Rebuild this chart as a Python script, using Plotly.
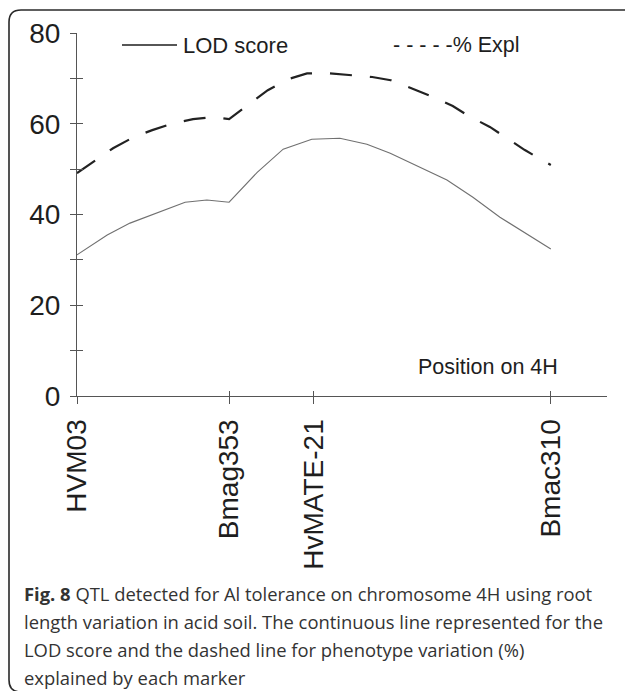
import plotly.graph_objects as go

# ---- data ----
marker_names = ["HVM03", "Bmag353", "HvMATE-21", "Bmac310"]
marker_pos = [0, 28.7, 44.7, 89.4]

lod_pos = [0, 5.7, 10.0, 15.7, 20.4, 24.5, 28.7, 34.0, 38.9, 44.3, 49.6, 54.7,
           59.1, 69.8, 74.7, 79.8, 89.4]
lod_val = [31.1, 35.5, 38.1, 40.7, 42.7, 43.2, 42.7, 49.3, 54.4, 56.6, 56.8, 55.5,
           53.5, 47.6, 43.8, 39.4, 32.4]

expl_pos = [0, 3.8, 6.8, 10.6, 14.2, 18.1, 21.9, 25.7, 28.7, 33.0, 36.0, 39.8, 43.4,
            47.7, 51.5, 55.7, 59.2, 63.6, 66.8, 70.9, 73.9, 77.9, 80.9, 84.5, 89.4]
expl_val = [49.1, 52.2, 54.6, 57.0, 58.6, 60.1, 61.0, 61.5, 61.0, 64.8, 67.4, 69.8, 71.1,
            71.1, 70.7, 70.3, 69.6, 67.6, 66.1, 63.9, 61.7, 59.3, 57.0, 54.2, 50.9]

y_ticks = [0, 10, 20, 30, 40, 50, 60, 70, 80]
y_ticktext = ["0", "", "20", "", "40", "", "60", "", "80"]

caption_lines = [
    "<b>Fig. 8</b> QTL detected for Al tolerance on chromosome 4H using root",
    "length variation in acid soil. The continuous line represented for the",
    "LOD score and the dashed line for phenotype variation (%)",
    "explained by each marker",
]

# ---- geometry ----
W, H = 625, 691
L, R, T, B = 77, 18, 33, 295
PW, PH = W - L - R, H - T - B


def px(x):
    return (x - L) / PW


def py(y):
    return (H - B - y) / PH


FONT = "Liberation Sans, Arial, sans-serif"
TXT = "#1e1e1e"
AX = "#555555"

fig = go.Figure()
fig.add_trace(go.Scatter(x=lod_pos, y=lod_val, mode="lines", name="LOD score",
                         line=dict(color="#707070", width=1.1), xaxis="x", yaxis="y",
                         showlegend=False))
fig.add_trace(go.Scatter(x=expl_pos, y=expl_val, mode="lines", name="% Expl",
                         line=dict(color="#222222", width=2.2, dash="22px,18px"),
                         xaxis="x2", yaxis="y2", showlegend=False))

common_x = dict(range=[0, 100], tickvals=marker_pos, showgrid=False, zeroline=False,
                ticklen=7, tickwidth=1.2, tickcolor=AX)
common_y = dict(range=[0, 80], tickvals=y_ticks, showgrid=False, zeroline=False,
                ticklen=6, tickwidth=1.2, tickcolor=AX)

fig.update_layout(
    width=W, height=H,
    margin=dict(l=L, r=R, t=T, b=B, pad=0),
    paper_bgcolor="white", plot_bgcolor="white",
    font=dict(family=FONT, color=TXT),
    xaxis=dict(**common_x, ticks="outside", ticktext=marker_names, tickangle=-90,
               showline=True, linecolor=AX, linewidth=1.2,
               tickfont=dict(size=28, family=FONT, color=TXT), ticklabelstandoff=4),
    xaxis2=dict(**{**common_x, "ticklen": 5}, ticks="inside", overlaying="x", anchor="y",
                showticklabels=False, showline=False),
    yaxis=dict(**common_y, ticks="outside", ticktext=y_ticktext, showline=True,
               linecolor=AX, linewidth=1.2,
               tickfont=dict(size=28, family=FONT, color=TXT), ticklabelstandoff=4),
    yaxis2=dict(**common_y, ticks="inside", overlaying="y", anchor="x", side="left",
                showticklabels=False, showline=False),
)

# frame (rounded left corners, open to the right)
r = 12
x0, y0, y1, x1 = 9, 10, 692, 660
path = (f"M {px(x1)},{py(y0)} L {px(x0 + r)},{py(y0)} Q {px(x0)},{py(y0)} {px(x0)},{py(y0 + r)} "
        f"L {px(x0)},{py(y1 - r)} Q {px(x0)},{py(y1)} {px(x0 + r)},{py(y1)} L {px(x1)},{py(y1)}")
fig.add_shape(type="path", path=path, xref="paper", yref="paper",
              line=dict(color="#2a2a2a", width=1.6), layer="above")

# in-chart legend
fig.add_shape(type="line", xref="paper", yref="paper", x0=px(122), x1=px(177),
              y0=py(45), y1=py(45), line=dict(color="#1e1e1e", width=1.4))
fig.add_annotation(text="LOD score", xref="paper", yref="paper", x=px(181), y=py(45),
                   xanchor="left", yanchor="middle", showarrow=False,
                   font=dict(size=22, family=FONT, color=TXT))
fig.add_annotation(text="- - - - -% Expl", xref="paper", yref="paper", x=px(391), y=py(45),
                   xanchor="left", yanchor="middle", showarrow=False,
                   font=dict(size=21.5, family=FONT, color=TXT))
fig.add_annotation(text="Position on 4H", xref="paper", yref="paper", x=px(560), y=py(367),
                   xanchor="right", yanchor="middle", showarrow=False,
                   font=dict(size=21.5, family=FONT, color=TXT))

# caption
cap_y = [593, 621, 649, 677]
for line, yy in zip(caption_lines, cap_y):
    fig.add_annotation(text=line, xref="paper", yref="paper", x=px(22), y=py(yy),
                       xanchor="left", yanchor="middle", showarrow=False,
                       font=dict(size=18.4, family="Open Sans, sans-serif", color="#333333"))

fig.write_html("out.html")
